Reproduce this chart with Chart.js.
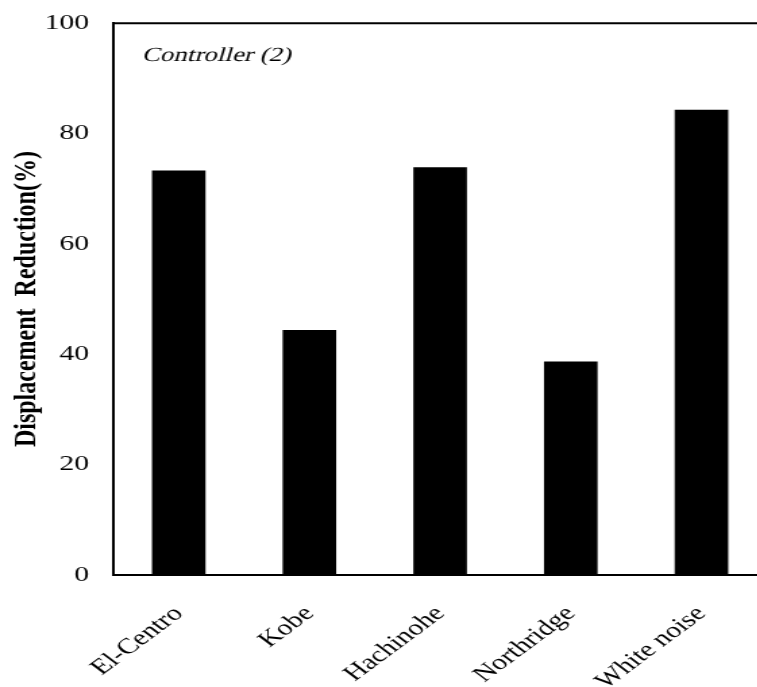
<!DOCTYPE html>
<html>
<head>
<meta charset="utf-8">
<script src="https://cdn.jsdelivr.net/npm/chart.js@4"></script>
<style>
    html, body { margin: 0; padding: 0; background: #ffffff; overflow: hidden; }
    #moldura {
        width: 575px;
        height: 687px;
        transform: scaleX(1.35);
        transform-origin: 0 0;
    }
</style>
</head>
<body>
<div id="moldura">
    <canvas id="graficoReducao" width="575" height="687"></canvas>
</div>
<script>
const sismos = ['El-Centro', 'Kobe', 'Hachinohe', 'Northridge', 'White noise'];
const reducao = [73.3, 44.4, 73.9, 38.7, 84.3];
const marcasY = [0, 20, 40, 60, 80, 100];

const fonteSerifa = '"Liberation Serif", "Times New Roman", "DejaVu Serif", serif';

const estiloDoTexto = {
    color: '#000000',
    font: {
        family: fonteSerifa,
        size: 22
    }
};

// linha superior da moldura e legenda do controlador (inclinada à mão)
const molduraETitulo = {
    id: 'molduraETitulo',
    afterDraw(chart) {
        const { ctx, chartArea } = chart;
        ctx.save();
        ctx.strokeStyle = '#000000';
        ctx.lineWidth = 2;
        ctx.beginPath();
        ctx.moveTo(chartArea.left - 1, chartArea.top);
        ctx.lineTo(chart.width, chartArea.top);
        ctx.stroke();

        const x = chartArea.left + 21;
        const y = chartArea.top + 38;
        ctx.translate(x, y);
        ctx.transform(1, 0, -0.22, 1, 0, 0);
        ctx.fillStyle = '#000000';
        ctx.font = '20px "Liberation Serif"';
        ctx.textAlign = 'left';
        ctx.textBaseline = 'alphabetic';
        ctx.fillText('Controller (2)', 0, 0);
        ctx.restore();
    }
};

const ctxReducao = document.getElementById('graficoReducao');
new Chart(ctxReducao, {
    type: 'bar',
    data: {
        labels: sismos,
        datasets: [{
            label: 'Displacement Reduction(%)',
            data: reducao,
            backgroundColor: '#000000',
            borderWidth: 0,
            categoryPercentage: 1,
            barPercentage: 0.41
        }]
    },
    options: {
        responsive: false,
        animation: false,
        layout: {
            padding: { top: 9, right: 7, bottom: 0, left: 0 }
        },
        plugins: {
            legend: { display: false },
            tooltip: { enabled: false }
        },
        scales: {
            x: {
                grid: { display: false },
                border: { display: true, color: '#000000', width: 2 },
                ticks: {
                    ...estiloDoTexto,
                    maxRotation: 45,
                    minRotation: 45,
                    padding: 18
                },
                afterFit(scale) { scale.height = 112; }
            },
            y: {
                min: 0,
                max: 100,
                afterBuildTicks(scale) {
                    scale.ticks = marcasY.map(v => ({ value: v }));
                },
                grid: { display: false },
                border: { display: true, color: '#000000', width: 2 },
                ticks: {
                    ...estiloDoTexto,
                    padding: 10
                },
                title: {
                    display: true,
                    text: 'Displacement  Reduction(%)',
                    color: '#000000',
                    font: { family: fonteSerifa, size: 24, weight: 'bold' },
                    padding: { top: 5, bottom: 0 }
                },
                afterFit(scale) { scale.width = 84; }
            }
        }
    },
    plugins: [molduraETitulo]
});
</script>
</body>
</html>
